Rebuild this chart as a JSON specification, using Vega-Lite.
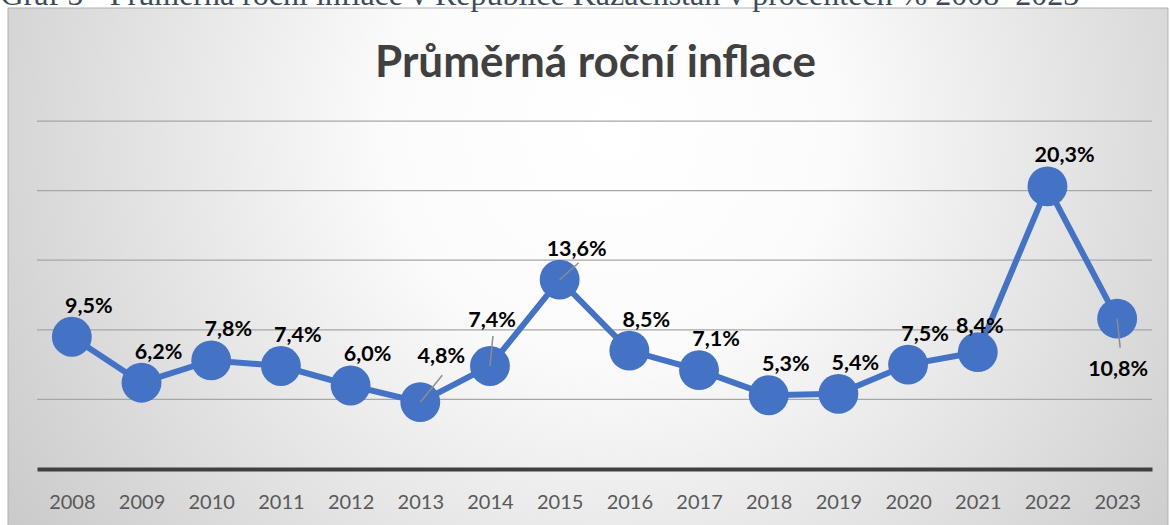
{
  "$schema": "https://vega.github.io/schema/vega-lite/v6.json",
  "width": 1115,
  "height": 348,
  "autosize": {"type": "none"},
  "padding": {"left": 37, "top": 121, "right": 18, "bottom": 56},
  "background": "#ffffff",
  "config": {"view": {"stroke": null}, "font": "Lato"},
  "datasets": {
    "inflation": [
      {"year": "2008", "value": 9.5, "label": "9,5%"},
      {"year": "2009", "value": 6.2, "label": "6,2%"},
      {"year": "2010", "value": 7.8, "label": "7,8%"},
      {"year": "2011", "value": 7.4, "label": "7,4%"},
      {"year": "2012", "value": 6.0, "label": "6,0%"},
      {"year": "2013", "value": 4.8, "label": "4,8%"},
      {"year": "2014", "value": 7.4, "label": "7,4%"},
      {"year": "2015", "value": 13.6, "label": "13,6%"},
      {"year": "2016", "value": 8.5, "label": "8,5%"},
      {"year": "2017", "value": 7.1, "label": "7,1%"},
      {"year": "2018", "value": 5.3, "label": "5,3%"},
      {"year": "2019", "value": 5.4, "label": "5,4%"},
      {"year": "2020", "value": 7.5, "label": "7,5%"},
      {"year": "2021", "value": 8.4, "label": "8,4%"},
      {"year": "2022", "value": 20.3, "label": "20,3%"},
      {"year": "2023", "value": 10.8, "label": "10,8%"}
    ],
    "grid": [{"v": 5}, {"v": 10}, {"v": 15}, {"v": 20}, {"v": 25}]
  },
  "data": {"name": "inflation"},
  "resolve": {"scale": {"x": "independent", "y": "independent"}},
  "layer": [
    {
      "data": {"values": [{}]},
      "mark": {
        "type": "rect",
        "stroke": "#b0b0b0",
        "strokeWidth": 1,
        "fill": {
          "gradient": "radial",
          "x1": 0.52, "y1": 0.38, "r1": 0,
          "x2": 0.52, "y2": 0.38, "r2": 0.78,
          "stops": [
            {"offset": 0, "color": "#ffffff"},
            {"offset": 0.25, "color": "#fbfbfb"},
            {"offset": 1, "color": "#b8b8b8"}
          ]
        }
      },
      "encoding": {
        "x": {
          "datum": -0.026,
          "type": "quantitative",
          "scale": {"domain": [0, 1], "nice": false, "zero": false},
          "axis": {
            "orient": "top", "labels": false, "ticks": false, "domain": false, "grid": false,
            "title": "Průměrná roční inflace",
            "titleX": 558, "titleY": -45, "titleAlign": "center", "titleBaseline": "alphabetic",
            "titleFont": "Lato", "titleFontSize": 44, "titleFontWeight": "bold", "titleColor": "#404040",
            "zindex": 2
          }
        },
        "x2": {"datum": 1.0143},
        "y": {
          "datum": 1.3247,
          "type": "quantitative",
          "scale": {"domain": [0, 1], "nice": false, "zero": false},
          "axis": {
            "orient": "left", "labels": false, "ticks": false, "domain": false, "grid": false,
            "title": "Graf 5 - Průměrná roční inflace v Republice Kazachstán v procentech % 2008–2023",
            "titleAngle": 0, "titleX": -37, "titleY": -117, "titleAlign": "left", "titleBaseline": "alphabetic",
            "titleFont": "Liberation Serif", "titleFontSize": 32, "titleFontWeight": "normal", "titleColor": "#3c4b5c",
            "zindex": 2
          }
        },
        "y2": {"datum": -0.175}
      }
    },
    {
      "layer": [
        {
          "data": {"name": "grid"},
          "mark": {"type": "rule", "color": "#a6a6a6", "strokeWidth": 1.25},
          "encoding": {
            "y": {"field": "v", "type": "quantitative", "scale": {"domain": [0, 25], "nice": false, "zero": true}, "axis": null}
          }
        },
        {
          "mark": {"type": "line", "color": "#4472c4", "strokeWidth": 6},
          "encoding": {
            "x": {
              "field": "year", "type": "ordinal",
              "scale": {"type": "point", "padding": 0.5},
              "axis": {
                "orient": "bottom", "title": null, "labelAngle": 0,
                "labelFont": "Lato", "labelFontSize": 20, "labelColor": "#595959",
                "ticks": false, "tickSize": 0, "domain": true, "domainColor": "#404040", "domainWidth": 4,
                "labelPadding": 39, "labelBaseline": "alphabetic", "grid": false, "zindex": 2
              }
            },
            "y": {"field": "value", "type": "quantitative", "scale": {"domain": [0, 25], "nice": false, "zero": true}, "axis": null}
          }
        },
        {
          "mark": {"type": "circle", "color": "#4472c4", "opacity": 1, "size": 1590},
          "encoding": {
            "x": {"field": "year", "type": "ordinal"},
            "y": {"field": "value", "type": "quantitative"}
          }
        },
        {
          "transform": [{"filter": "datum.year == '2013'"}],
          "mark": {"type": "rule", "color": "#8c8c8c", "strokeWidth": 1.5, "x2Offset": 22, "y2Offset": -27},
          "encoding": {
            "x": {"field": "year", "type": "ordinal"}, "x2": {"field": "year"},
            "y": {"field": "value", "type": "quantitative"}, "y2": {"field": "value"}
          }
        },
        {
          "transform": [{"filter": "datum.year == '2014'"}],
          "mark": {"type": "rule", "color": "#8c8c8c", "strokeWidth": 1.5, "x2Offset": 3, "y2Offset": -30},
          "encoding": {
            "x": {"field": "year", "type": "ordinal"}, "x2": {"field": "year"},
            "y": {"field": "value", "type": "quantitative"}, "y2": {"field": "value"}
          }
        },
        {
          "transform": [{"filter": "datum.year == '2015'"}],
          "mark": {"type": "rule", "color": "#8c8c8c", "strokeWidth": 1.5, "x2Offset": 19, "y2Offset": -17},
          "encoding": {
            "x": {"field": "year", "type": "ordinal"}, "x2": {"field": "year"},
            "y": {"field": "value", "type": "quantitative"}, "y2": {"field": "value"}
          }
        },
        {
          "transform": [{"filter": "datum.year == '2023'"}],
          "mark": {"type": "rule", "color": "#8c8c8c", "strokeWidth": 1.5, "x2Offset": 3, "y2Offset": 29},
          "encoding": {
            "x": {"field": "year", "type": "ordinal"}, "x2": {"field": "year"},
            "y": {"field": "value", "type": "quantitative"}, "y2": {"field": "value"}
          }
        },
        {
          "transform": [{"filter": "datum.year != '2013' && datum.year != '2014' && datum.year != '2021' && datum.year != '2023'"}],
          "mark": {"type": "text", "font": "Lato", "fontSize": 21.5, "fontWeight": "bold", "color": "#000000", "align": "center", "baseline": "middle", "dx": 17, "dy": -30},
          "encoding": {
            "x": {"field": "year", "type": "ordinal"},
            "y": {"field": "value", "type": "quantitative"},
            "text": {"field": "label"}
          }
        },
        {
          "transform": [{"filter": "datum.year == '2021'"}],
          "mark": {"type": "text", "font": "Lato", "fontSize": 21.5, "fontWeight": "bold", "color": "#000000", "align": "center", "baseline": "middle", "dx": 2, "dy": -25},
          "encoding": {
            "x": {"field": "year", "type": "ordinal"},
            "y": {"field": "value", "type": "quantitative"},
            "text": {"field": "label"}
          }
        },
        {
          "transform": [{"filter": "datum.year == '2013'"}],
          "mark": {"type": "text", "font": "Lato", "fontSize": 21.5, "fontWeight": "bold", "color": "#000000", "align": "center", "baseline": "middle", "dx": 21, "dy": -45},
          "encoding": {
            "x": {"field": "year", "type": "ordinal"},
            "y": {"field": "value", "type": "quantitative"},
            "text": {"field": "label"}
          }
        },
        {
          "transform": [{"filter": "datum.year == '2014'"}],
          "mark": {"type": "text", "font": "Lato", "fontSize": 21.5, "fontWeight": "bold", "color": "#000000", "align": "center", "baseline": "middle", "dx": 2, "dy": -45},
          "encoding": {
            "x": {"field": "year", "type": "ordinal"},
            "y": {"field": "value", "type": "quantitative"},
            "text": {"field": "label"}
          }
        },
        {
          "transform": [{"filter": "datum.year == '2023'"}],
          "mark": {"type": "text", "font": "Lato", "fontSize": 21.5, "fontWeight": "bold", "color": "#000000", "align": "center", "baseline": "middle", "dx": 1, "dy": 51},
          "encoding": {
            "x": {"field": "year", "type": "ordinal"},
            "y": {"field": "value", "type": "quantitative"},
            "text": {"field": "label"}
          }
        }
      ]
    }
  ]
}
